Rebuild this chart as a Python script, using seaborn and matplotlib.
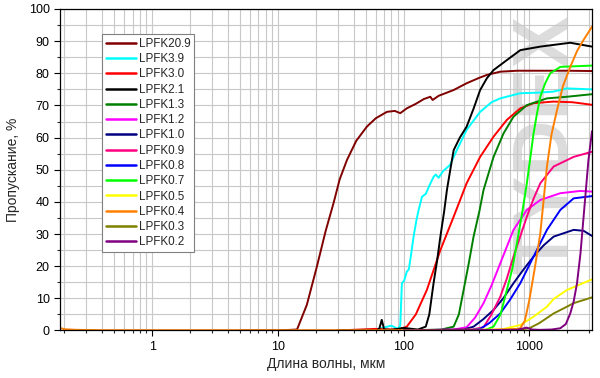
import pandas as pd
import seaborn as sns
import matplotlib
matplotlib.use("Agg")
import matplotlib.pyplot as plt
from matplotlib.ticker import LogLocator, MultipleLocator, FuncFormatter, NullFormatter

# filter names and colours (legend order)
names = ["LPFK20.9", "LPFK3.9", "LPFK3.0", "LPFK2.1", "LPFK1.3", "LPFK1.2", "LPFK1.0",
         "LPFK0.9", "LPFK0.8", "LPFK0.7", "LPFK0.5", "LPFK0.4", "LPFK0.3", "LPFK0.2"]
colors = ["#800000", "#00ffff", "#ff0000", "#000000", "#008000", "#ff00ff", "#000080",
          "#ff0080", "#0000ff", "#00ff00", "#ffff00", "#ff8000", "#808000", "#800080"]

# wavelength (um) / transmission (%)
wl_209 = [5, 10, 14.2, 17, 20.4, 24, 27.7, 31, 35.4, 42, 51, 60, 73.6, 85, 94, 106, 125, 145,
          163, 170, 190, 250, 317, 400, 460, 587, 800, 1200, 2000, 3150]
t_209 = [0, 0, 0.3, 8, 19.8, 31, 39.6, 47, 53, 59, 63.4, 66, 68, 68.3, 67.6, 69.1, 70.5, 72,
         72.7, 71.7, 73, 74.8, 76.9, 78.6, 79.5, 80.5, 80.8, 80.8, 80.8, 80.7]

wl_39 = [30, 60, 80, 90, 94, 96.9, 101, 106, 110, 115, 120, 126, 131.6, 140, 150, 160, 173,
         180, 190, 205, 234, 265, 317, 406, 500, 587, 847, 1200, 1550, 1990, 3150]
t_39 = [0, 0.3, 1.5, 0.5, 1.5, 14.7, 15.5, 18.3, 19, 24, 29.2, 34, 37.5, 41.6, 42.5, 45, 47.8,
        48.5, 47.5, 49.5, 51.5, 56.1, 62.4, 68, 71, 72.2, 73.8, 74, 74.3, 75.3, 75]

wl_30 = [30, 60, 80, 94, 106, 125, 153, 196, 250, 317, 406, 519, 662, 847, 1080, 1550, 2200, 3150]
t_30 = [0, 0.5, 0.3, 0.5, 1.2, 5, 12.6, 25, 35.4, 45.8, 54, 60.3, 65.5, 69.1, 70.7, 71.2, 71, 70.2]

wl_21 = [30, 60, 64, 67, 70, 80, 100, 130, 150, 160, 173, 185, 196, 210, 221, 235, 250, 280,
         317, 360, 406, 460, 519, 662, 847, 1222, 2115, 3150]
t_21 = [0, 0, 0.5, 3.3, 0.3, 0.2, 0.8, 0.3, 1.2, 5, 14.7, 22, 29.2, 37, 43.7, 50, 56.1, 60,
        63.4, 69, 74.8, 78.5, 81, 84.1, 87.2, 88.3, 89.5, 88.3]

wl_13 = [100, 200, 250, 275, 300, 330, 360, 400, 432, 519, 623, 748, 955, 1380, 1990, 3150]
t_13 = [0, 0.3, 1.2, 5, 12.6, 21, 29.2, 37, 43.7, 54, 61.3, 66.5, 70.1, 72.2, 72.7, 73.5]

wl_12 = [100, 250, 317, 370, 432, 500, 587, 748, 955, 1222, 1762, 2540, 3150]
t_12 = [0, 0.3, 1, 4, 8.5, 14, 20.9, 31.3, 37.5, 40.6, 42.7, 43.4, 43.2]

wl_10 = [100, 300, 360, 430, 519, 620, 748, 900, 1080, 1300, 1560, 2250, 2700, 3150]
t_10 = [0, 0.3, 1.2, 3.5, 6.4, 10, 14.7, 19, 23, 26.5, 29.2, 31.3, 31, 29.4]

wl_09 = [100, 350, 432, 500, 587, 660, 748, 850, 955, 1080, 1222, 1560, 2250, 3150]
t_09 = [0, 0.3, 1, 5, 10.5, 16, 23, 29.5, 35.4, 41, 45.8, 51, 54, 55.6]

wl_08 = [100, 350, 406, 480, 587, 700, 847, 1080, 1380, 1762, 2250, 3150]
t_08 = [0, 0.2, 0.5, 2.3, 5.3, 9.5, 14.7, 23, 31.3, 37.5, 41.1, 41.8]

wl_07 = [100, 450, 519, 590, 662, 730, 796, 880, 955, 1020, 1080, 1150, 1222, 1340, 1466, 1762, 3150]
t_07 = [0, 0.2, 1.2, 5, 12.6, 19, 27.1, 37, 45.8, 54, 61.3, 67.5, 72.7, 77, 80, 82, 82.4]

wl_05 = [100, 600, 748, 847, 1080, 1380, 1560, 1990, 3150]
t_05 = [0, 0.3, 1.2, 1.7, 4.3, 7.4, 9.8, 12.6, 15.9]

wl_04 = [0.185, 0.2, 0.25, 0.4, 1, 10, 100, 500, 800, 847, 920, 1000, 1100, 1222, 1380, 1500,
         1660, 1850, 2115, 2400, 2700, 3150]
t_04 = [0.8, 0.4, 0.2, 0.1, 0.1, 0.1, 0.1, 0.2, 0.5, 0.7, 3, 9.5, 19, 30.2, 51, 61,
        68.6, 76, 82, 87, 90.4, 94.5]

wl_03 = [100, 800, 1000, 1200, 1560, 1900, 2250, 3150]
t_03 = [0, 0.2, 0.7, 2.3, 5.3, 7, 8.5, 10.3]

wl_02 = [100, 800, 950, 1050, 1200, 1500, 1762, 1950, 2115, 2250, 2393, 2550, 2700, 2950, 3150]
t_02 = [0, 0.2, 0.9, 0.3, 0.2, 0.3, 0.7, 2, 5.3, 9, 14.7, 24, 35.4, 53, 62]

series = [(wl_209, t_209), (wl_39, t_39), (wl_30, t_30), (wl_21, t_21), (wl_13, t_13),
          (wl_12, t_12), (wl_10, t_10), (wl_09, t_09), (wl_08, t_08), (wl_07, t_07),
          (wl_05, t_05), (wl_04, t_04), (wl_03, t_03), (wl_02, t_02)]

frames = []
for name, (wl, tr) in zip(names, series):
    frames.append(pd.DataFrame({"wl": wl, "T": tr, "filter": name}))
df = pd.concat(frames, ignore_index=True)

sns.set_style("ticks")
plt.rcParams["font.family"] = ["Liberation Sans", "DejaVu Sans"]

fig = plt.figure(figsize=(6, 3.78), dpi=100)
ax = fig.add_axes([0.1, 0.1257, 0.8867, 0.8505])

# watermark
ax.text(0.915, 0.58, "TYDEX", transform=ax.transAxes, rotation=90, fontsize=56,
        fontweight="bold", color="#dcdcdc", ha="center", va="center", zorder=0.5)

sns.lineplot(data=df, x="wl", y="T", hue="filter", hue_order=names,
             palette=dict(zip(names, colors)), sort=False, estimator=None,
             linewidth=1.4, ax=ax, legend=True)

ax.set_xscale("log")
ax.set_xlim(0.185, 3150)
ax.set_ylim(0, 100)

ax.xaxis.set_major_locator(LogLocator(base=10, numticks=10))
ax.xaxis.set_minor_locator(LogLocator(base=10, subs=[2, 3, 4, 5, 6, 7, 8, 9], numticks=20))
ax.xaxis.set_major_formatter(FuncFormatter(lambda v, p: f"{v:g}"))
ax.xaxis.set_minor_formatter(NullFormatter())
ax.yaxis.set_major_locator(MultipleLocator(10))
ax.yaxis.set_minor_locator(MultipleLocator(5))

ax.grid(which="both", color="#c8c8c8", linewidth=0.8)
ax.set_axisbelow(True)
ax.tick_params(which="major", direction="out", length=4, width=0.8, labelsize=9, colors="black")
ax.tick_params(which="minor", direction="out", length=2.5, width=0.8)
for s in ax.spines.values():
    s.set_visible(True)
    s.set_color("black")
    s.set_linewidth(0.9)

ax.set_xlabel("Длина волны, мкм", fontsize=10, labelpad=3)
ax.set_ylabel("Пропускание, %", fontsize=10, labelpad=6)

handles, labels = ax.get_legend_handles_labels()
leg = ax.legend(handles, labels, loc="upper left", bbox_to_anchor=(0.079, 0.921),
                fontsize=8.4, frameon=True, fancybox=False, edgecolor="#808080",
                framealpha=1, borderpad=0.3, labelspacing=0.28, handlelength=2.6,
                handletextpad=0.25, borderaxespad=0)
leg.get_frame().set_linewidth(0.8)
for h in leg.get_lines():
    h.set_linewidth(1.8)

fig.savefig("out.png", dpi=100)
plt.close(fig)
